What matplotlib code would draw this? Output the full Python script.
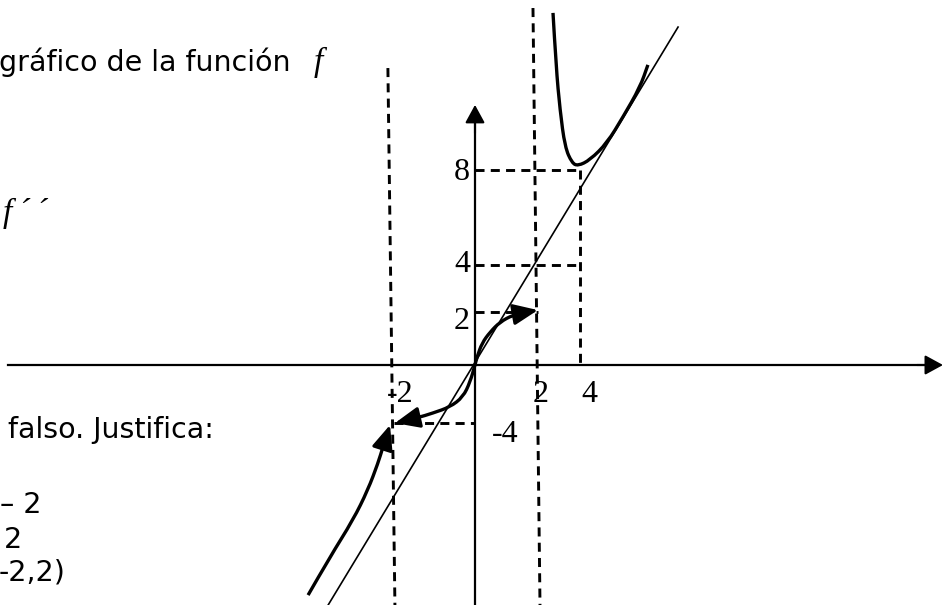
import numpy as np
import matplotlib
matplotlib.use("Agg")
import matplotlib.pyplot as plt
from matplotlib.path import Path
from matplotlib.patches import PathPatch

plt.rcParams['lines.scale_dashes'] = False

# ---------------- data (units of the sketch: x ~ 26 px, y ~ 24.4 px) ----------------
# rama derecha (x > 2)
rama_der_x = [3.00, 3.12, 3.27, 3.46, 3.73, 3.96, 4.42, 5.08, 5.69, 6.35, 6.65]
rama_der_y = [14.43, 12.21, 10.45, 8.93, 8.28, 8.16, 8.40, 9.10, 10.16, 11.39, 12.30]

# rama central, de la flecha izquierda a la flecha derecha
rama_cen_x = [-3.08, -2.88, -2.23, -1.62, -0.96, -0.46, -0.19, 0.00, 0.08, 0.27, 0.58, 0.96, 1.46, 2.00, 2.42]
rama_cen_y = [-2.38, -2.34, -2.17, -1.97, -1.72, -1.31, -0.70, 0.00, 0.33, 0.90, 1.35, 1.76, 2.05, 2.17, 2.25]

# rama izquierda (x < -2), termina en flecha
rama_izq_x = [-6.42, -5.58, -4.69, -4.12, -3.73, -3.54, -3.27]
rama_izq_y = [-9.43, -7.87, -6.35, -5.12, -4.02, -3.36, -2.46]

# asintota oblicua
asint_x = [-5.65, 7.81]
asint_y = [-9.84, 13.85]

# asintotas verticales (x = -2, x = 2)
asint_v1_x = [-3.35, -3.08]
asint_v1_y = [12.17, -9.84]
asint_v2_x = [2.23, 2.50]
asint_v2_y = [14.63, -9.84]

# lineas auxiliares
guia_x4 = 4.04
guia_y8 = 7.99
guia_y4 = 4.10
guia_y2 = 2.17
guia_x2 = 2.42
guia_ym4 = -2.38
guia_xm2 = -3.12

etiquetas = ["8", "4", "2", "-2", "2", "4", "-4"]
etiq_pos = [(-0.5, 7.87), (-0.5, 4.10), (-0.5, 1.80), (-2.88, -1.19),
            (2.54, -1.19), (4.38, -1.19), (1.15, -2.83)]

W, H = 943, 605
fig = plt.figure(figsize=(W / 100, H / 100), dpi=100)
ax = fig.add_axes([0, 0, 1, 1])
ax.set_xlim(-475 / 26, 468 / 26)
ax.set_ylim(-240 / 24.4, 365 / 24.4)
ax.axis('off')


def curva_suave(xs, ys, **kw):
    # curva cuadratica que pasa por los puntos medios
    pts = list(zip(xs, ys))
    verts = [pts[0]]
    codes = [Path.MOVETO]
    for i in range(1, len(pts) - 1):
        mid = ((pts[i][0] + pts[i + 1][0]) / 2, (pts[i][1] + pts[i + 1][1]) / 2)
        verts += [pts[i], mid]
        codes += [Path.CURVE3, Path.CURVE3]
    verts.append(pts[-1])
    codes.append(Path.LINETO)
    ax.add_patch(PathPatch(Path(verts, codes), facecolor='none', **kw))


# ejes
ax.plot([-17.96, 17.6], [0, 0], color='black', lw=1.6)
ax.annotate('', xy=(18.0, 0), xytext=(17.0, 0),
            arrowprops=dict(arrowstyle='-|>,head_length=0.55,head_width=0.3',
                            color='black', lw=1.5, mutation_scale=20, shrinkA=0, shrinkB=0))
ax.plot([0, 0], [-9.84, 10.2], color='black', lw=1.6)
ax.annotate('', xy=(0, 10.66), xytext=(0, 9.5),
            arrowprops=dict(arrowstyle='-|>,head_length=0.55,head_width=0.3',
                            color='black', lw=1.5, mutation_scale=20, shrinkA=0, shrinkB=0))

# lineas discontinuas
dash = dict(color='black', lw=2.1, dashes=(6.5, 4.5))
ax.plot(asint_v1_x, asint_v1_y, **dash)
ax.plot(asint_v2_x, asint_v2_y, **dash)
ax.plot([guia_x4, guia_x4], [guia_y8, 0], **dash)
ax.plot([0, guia_x4], [guia_y8, guia_y8], **dash)
ax.plot([0, guia_x4], [guia_y4, guia_y4], **dash)
ax.plot([0, guia_x2], [guia_y2, guia_y2], **dash)
ax.plot([guia_xm2, 0], [guia_ym4, guia_ym4], **dash)

# asintota oblicua
ax.plot(asint_x, asint_y, color='black', lw=1.2)

# curvas
gruesa = dict(edgecolor='black', lw=2.4, capstyle='butt')
curva_suave(rama_der_x, rama_der_y, **gruesa)
curva_suave(rama_cen_x[1:-1], rama_cen_y[1:-1], **gruesa)
curva_suave(rama_izq_x[:-1], rama_izq_y[:-1], **gruesa)

flecha = dict(arrowstyle='-|>,head_length=0.75,head_width=0.32', color='black',
              lw=2.3, mutation_scale=20, shrinkA=0, shrinkB=0)
ax.annotate('', xy=(rama_cen_x[-1], rama_cen_y[-1]),
            xytext=(rama_cen_x[-2], rama_cen_y[-2]), arrowprops=flecha)
ax.annotate('', xy=(rama_cen_x[0], rama_cen_y[0]),
            xytext=(rama_cen_x[2], rama_cen_y[2]), arrowprops=flecha)
ax.annotate('', xy=(rama_izq_x[-1], rama_izq_y[-1]),
            xytext=(rama_izq_x[-2], rama_izq_y[-2]), arrowprops=flecha)

# etiquetas de los ejes
for t, (x, y) in zip(etiquetas, etiq_pos):
    ax.text(x, y, t, fontsize=23, family='Liberation Serif',
            ha='center', va='center')


# textos del enunciado (recortados)
def fpos(x, y):
    return x / W, 1 - y / H


sans = dict(family='DejaVu Sans', fontsize=20.5, va='baseline', ha='left')
fig.text(*fpos(-1, 71), "gráfico de la función", **sans)
fig.text(*fpos(314, 71), "f", family='Liberation Serif', style='italic',
         fontsize=24, va='baseline')
fig.text(*fpos(3, 222), "f\u2009´\u2009´", family='Liberation Serif', style='italic',
         fontsize=24, va='baseline')
fig.text(*fpos(8, 438), "falso. Justifica:", **sans)
fig.text(*fpos(0, 513), "– 2", **sans)
fig.text(*fpos(4, 548), "2", **sans)
fig.text(*fpos(-1, 580), "-2,2)", **sans)

fig.savefig('out.png', dpi=100)
